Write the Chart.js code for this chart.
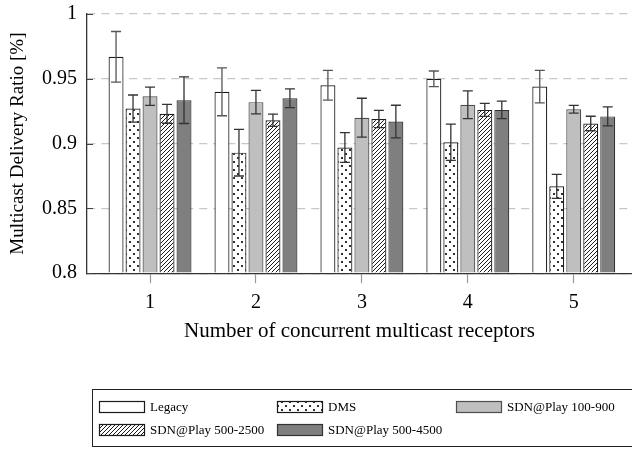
<!DOCTYPE html>
<html>
<head>
<meta charset="utf-8">
<script src="https://cdn.jsdelivr.net/npm/chart.js@4.4.1/dist/chart.umd.min.js"></script>
<style>
  html, body { margin: 0; padding: 0; background: #fff; overflow: hidden; }
  #wrap { width: 632px; height: 449px; position: relative; }
</style>
</head>
<body>
<div id="wrap"><canvas id="mdrChart"></canvas></div>
<script>
// number of concurrent multicast receptors (x categories)
const receptors = [1, 2, 3, 4, 5];
const seriesNames = ['Legacy', 'DMS', 'SDN@Play 100-900', 'SDN@Play 500-2500', 'SDN@Play 500-4500'];

// mean delivery ratio and error (half-height of error bar) per series
const legacy = [0.967, 0.940, 0.945, 0.950, 0.944];
const legacyErr = [0.0195, 0.0185, 0.0115, 0.006, 0.0125];
const dms = [0.927, 0.893, 0.897, 0.901, 0.867];
const dmsErr = [0.0105, 0.018, 0.0115, 0.014, 0.0093];
const sdn100 = [0.9365, 0.932, 0.920, 0.930, 0.9265];
const sdn100Err = [0.007, 0.009, 0.015, 0.0107, 0.003];
const sdn2500 = [0.923, 0.918, 0.919, 0.926, 0.9155];
const sdn2500Err = [0.0073, 0.0047, 0.0067, 0.005, 0.0056];
const sdn4500 = [0.9335, 0.935, 0.917, 0.926, 0.921];
const sdn4500Err = [0.018, 0.0073, 0.0126, 0.0067, 0.0073];

const yTicks = [0.8, 0.85, 0.9, 0.95, 1];

const SERIF = "'Liberation Serif', 'Times New Roman', serif";
Chart.defaults.font.family = SERIF;
Chart.defaults.color = '#000';

function dotPattern() {
    const c = document.createElement('canvas');
    c.width = 8; c.height = 8;
    const g = c.getContext('2d');
    g.fillStyle = '#fff';
    g.fillRect(0, 0, 8, 8);
    g.fillStyle = '#000';
    g.beginPath(); g.arc(2, 2, 1.1, 0, Math.PI * 2); g.fill();
    g.beginPath(); g.arc(6, 6, 1.1, 0, Math.PI * 2); g.fill();
    return g.createPattern(c, 'repeat');
}

function hatchPattern() {
    const c = document.createElement('canvas');
    c.width = 4; c.height = 4;
    const g = c.getContext('2d');
    g.fillStyle = '#fff';
    g.fillRect(0, 0, 4, 4);
    g.strokeStyle = '#000';
    g.lineWidth = 0.9;
    g.beginPath();
    g.moveTo(-1, 5); g.lineTo(5, -1);
    g.moveTo(-1, 1); g.lineTo(1, -1);
    g.moveTo(3, 5); g.lineTo(5, 3);
    g.stroke();
    return g.createPattern(c, 'repeat');
}

const values = [legacy, dms, sdn100, sdn2500, sdn4500];
const errors = [legacyErr, dmsErr, sdn100Err, sdn2500Err, sdn4500Err];
const fills = ['#ffffff', dotPattern(), '#bfbfbf', hatchPattern(), '#7f7f7f'];
const borders = ['#1a1a1a', '#1a1a1a', '#4d4d4d', '#1a1a1a', '#333333'];
const errColors = ['#555555', '#333333', '#333333', '#333333', '#333333'];

const datasets = seriesNames.map((name, k) => ({
    label: name,
    data: receptors.map((r, i) => ({ x: r, y: values[k][i] })),
    errors: errors[k],
    errColor: errColors[k],
    backgroundColor: fills[k],
    borderColor: borders[k],
    borderWidth: 1.2,
    borderSkipped: 'start',
    base: 0.8,
    categoryPercentage: 0.802,
    barPercentage: 0.88
}));

// error bars + small inward y ticks
const errorBars = {
    id: 'errorBars',
    afterDatasetsDraw(chart) {
        const ctx = chart.ctx;
        const y = chart.scales.y;
        ctx.save();
        chart.data.datasets.forEach((ds, di) => {
            chart.getDatasetMeta(di).data.forEach((bar, i) => {
                const v = ds.data[i].y, e = ds.errors[i];
                const top = y.getPixelForValue(v + e);
                const bot = y.getPixelForValue(v - e);
                ctx.strokeStyle = ds.errColor;
                ctx.lineWidth = 1.3;
                ctx.beginPath();
                ctx.moveTo(bar.x, top); ctx.lineTo(bar.x, bot);
                ctx.moveTo(bar.x - 5, top); ctx.lineTo(bar.x + 5, top);
                ctx.moveTo(bar.x - 5, bot); ctx.lineTo(bar.x + 5, bot);
                ctx.stroke();
            });
        });
        ctx.strokeStyle = '#444';
        ctx.lineWidth = 1;
        yTicks.forEach(t => {
            const py = Math.round(y.getPixelForValue(t)) + 0.5;
            ctx.beginPath();
            ctx.moveTo(chart.chartArea.left, py);
            ctx.lineTo(chart.chartArea.left + 6, py);
            ctx.stroke();
        });
        ctx.restore();
    }
};

// boxed legend in three columns under the axis title
const boxLegend = {
    id: 'boxLegend',
    afterDraw(chart) {
        const ctx = chart.ctx;
        const colX = [99, 277, 456];
        const rowY = [401, 424];
        ctx.save();
        ctx.strokeStyle = '#222';
        ctx.lineWidth = 1;
        ctx.strokeRect(92.5, 389.5, 560, 57);
        ctx.font = '13px ' + SERIF;
        ctx.textBaseline = 'middle';
        ctx.fillStyle = '#000';
        chart.data.datasets.forEach((ds, k) => {
            const x = colX[k % 3], yy = rowY[Math.floor(k / 3)];
            ctx.fillStyle = ds.backgroundColor;
            ctx.fillRect(x, yy, 46, 12);
            ctx.strokeStyle = ds.borderColor;
            ctx.lineWidth = 1.2;
            ctx.strokeRect(x + 0.5, yy + 0.5, 45, 11);
            ctx.fillStyle = '#000';
            ctx.fillText(ds.label, x + 51, yy + 6.5);
        });
        ctx.restore();
    }
};

new Chart(document.getElementById('mdrChart'), {
    type: 'bar',
    data: { datasets: datasets },
    options: {
        responsive: true,
        maintainAspectRatio: false,
        animation: false,
        layout: { padding: { top: 14, left: 0, right: 0, bottom: 109 } },
        plugins: {
            legend: { display: false },
            tooltip: { enabled: false }
        },
        scales: {
            x: {
                type: 'linear',
                offset: false,
                min: 0.405,
                max: 5.55,
                afterBuildTicks: s => { s.ticks = receptors.map(v => ({ value: v })); },
                ticks: { font: { size: 20 }, padding: 8, callback: v => String(v) },
                grid: { offset: false, drawOnChartArea: false, drawTicks: true, tickLength: 10, tickColor: '#999', tickWidth: 1.2 },
                border: { color: '#333', width: 1.3 },
                title: { display: true, text: 'Number of concurrent multicast receptors', font: { size: 21, lineHeight: 0.8 }, padding: { top: 0, bottom: 0 } }
            },
            y: {
                min: 0.8,
                max: 1,
                afterBuildTicks: s => { s.ticks = yTicks.map(v => ({ value: v })); },
                afterFit: s => { s.width = 87; s.paddingTop = 0; s.paddingBottom = 0; },
                ticks: { font: { size: 20 }, padding: 10, callback: v => String(v) },
                grid: { color: '#c8c8c8', lineWidth: 1.2, drawTicks: false },
                border: { color: '#333', width: 1.3, dash: [8, 6] },
                title: { display: true, text: 'Multicast Delivery Ratio [%]', font: { size: 19 }, padding: { top: 7, bottom: 0 } }
            }
        }
    },
    plugins: [errorBars, boxLegend]
});
</script>
</body>
</html>
